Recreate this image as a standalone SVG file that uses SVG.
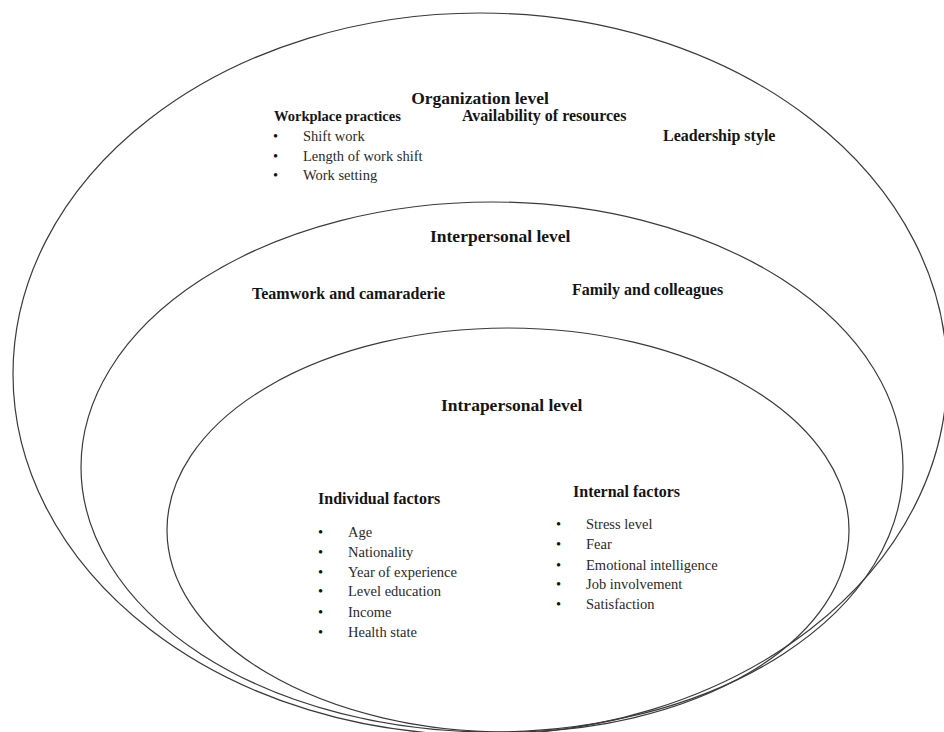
<svg xmlns="http://www.w3.org/2000/svg" width="944" height="732" viewBox="0 0 944 732">
<style>
.ring{fill:none;stroke:#3a3a3a;stroke-width:1.2}
text{font-family:'Liberation Serif','Times New Roman','DejaVu Serif',serif}
.h{font-weight:bold;fill:#151515}
.lv{font-size:17.5px}
.sub{font-size:16px}
.wp{font-size:14.5px}
.it{font-size:14.5px;fill:#2a2a2a}
.b{font-size:14.5px;fill:#111}
</style>
<rect width="944" height="732" fill="#fff"/>
<g id="organization-level">
<ellipse class="ring" cx="480" cy="374" rx="467" ry="361"/>
<text class="h lv" x="480" y="104" text-anchor="middle">Organization level</text>
<text class="h wp" x="274" y="121">Workplace practices</text>
<text class="b" x="273" y="141">•</text><text class="it" x="303" y="141">Shift work</text>
<text class="b" x="273" y="161">•</text><text class="it" x="303" y="161">Length of work shift</text>
<text class="b" x="273" y="180">•</text><text class="it" x="303" y="180">Work setting</text>
<text class="h sub" x="462" y="121">Availability of resources</text>
<text class="h sub" x="663" y="141">Leadership style</text>
</g>
<g id="interpersonal-level">
<ellipse class="ring" cx="492" cy="467" rx="411" ry="265"/>
<text class="h lv" x="430" y="242">Interpersonal level</text>
<text class="h sub" x="252" y="299">Teamwork and camaraderie</text>
<text class="h sub" x="572" y="295">Family and colleagues</text>
</g>
<g id="intrapersonal-level">
<ellipse class="ring" cx="508" cy="530" rx="341" ry="202"/>
<text class="h lv" x="441" y="411">Intrapersonal level</text>
<text class="h sub" x="318" y="504">Individual factors</text>
<text class="b" x="318" y="537">•</text><text class="it" x="348" y="537">Age</text>
<text class="b" x="318" y="557">•</text><text class="it" x="348" y="557">Nationality</text>
<text class="b" x="318" y="577">•</text><text class="it" x="348" y="577">Year of experience</text>
<text class="b" x="318" y="596">•</text><text class="it" x="348" y="596">Level education</text>
<text class="b" x="318" y="617">•</text><text class="it" x="348" y="617">Income</text>
<text class="b" x="318" y="637">•</text><text class="it" x="348" y="637">Health state</text>
<text class="h sub" x="573" y="497">Internal factors</text>
<text class="b" x="556" y="529">•</text><text class="it" x="586" y="529">Stress level</text>
<text class="b" x="556" y="549">•</text><text class="it" x="586" y="549">Fear</text>
<text class="b" x="556" y="570">•</text><text class="it" x="586" y="570">Emotional intelligence</text>
<text class="b" x="556" y="589">•</text><text class="it" x="586" y="589">Job involvement</text>
<text class="b" x="556" y="609">•</text><text class="it" x="586" y="609">Satisfaction</text>
</g>
</svg>
